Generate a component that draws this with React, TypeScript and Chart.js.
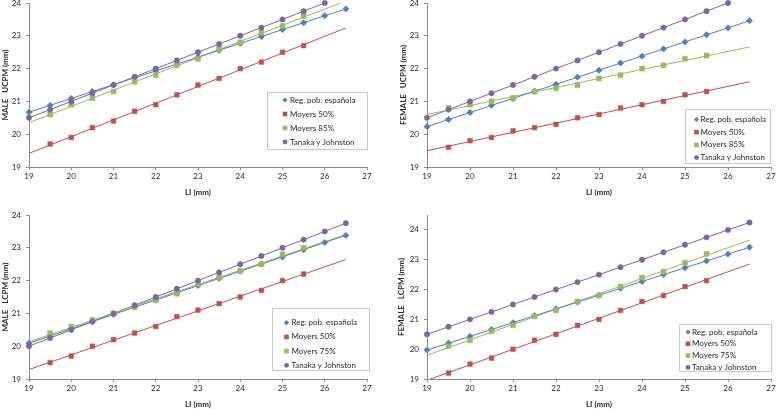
import React, { useEffect, useRef } from 'react';
import { Chart, registerables } from 'chart.js';

Chart.register(...registerables);

// ---------- data ----------
const LI_ALL = [19, 19.5, 20, 20.5, 21, 21.5, 22, 22.5, 23, 23.5, 24, 24.5, 25, 25.5, 26, 26.5];
const LI_MOYERS = [19.5, 20, 20.5, 21, 21.5, 22, 22.5, 23, 23.5, 24, 24.5, 25, 25.5];
const LI_TANAKA_UPPER = [19, 19.5, 20, 20.5, 21, 21.5, 22, 22.5, 23, 23.5, 24, 24.5, 25, 25.5, 26];
const TREND_X = [19, 26.5];
const X_TICKS = [19, 20, 21, 22, 23, 24, 25, 26, 27];

const NAME_REG = 'Reg. pob. española';
const NAME_M50 = 'Moyers 50%';
const NAME_M85 = 'Moyers 85%';
const NAME_M75 = 'Moyers 75%';
const NAME_TANAKA = 'Tanaka y Johnston';

const TITLE_X = 'LI (mm)';
const TITLE_MALE_UPPER = 'MALE   UCPM (mm)';
const TITLE_FEMALE_UPPER = 'FEMALE   UCPM (mm)';
const TITLE_MALE_LOWER = 'MALE   LCPM (mm)';
const TITLE_FEMALE_LOWER = 'FEMALE   LCPM (mm)';

// Male, upper (UCPM)
const MALE_UPPER_REG = [20.67, 20.88, 21.09, 21.30, 21.51, 21.72, 21.93, 22.14, 22.35, 22.56, 22.77, 22.98, 23.19, 23.40, 23.61, 23.82];
const MALE_UPPER_M50 = [19.7, 19.9, 20.2, 20.4, 20.7, 20.9, 21.2, 21.5, 21.7, 22.0, 22.2, 22.5, 22.7];
const MALE_UPPER_M85 = [20.6, 20.9, 21.1, 21.3, 21.6, 21.8, 22.1, 22.3, 22.6, 22.8, 23.1, 23.3, 23.6];
const MALE_UPPER_TANAKA = [20.5, 20.75, 21, 21.25, 21.5, 21.75, 22, 22.25, 22.5, 22.75, 23, 23.25, 23.5, 23.75, 24];

// Female, upper (UCPM)
const FEMALE_UPPER_REG = [20.23, 20.45, 20.66, 20.88, 21.09, 21.31, 21.52, 21.74, 21.95, 22.17, 22.38, 22.60, 22.81, 23.03, 23.24, 23.46];
const FEMALE_UPPER_M50 = [19.6, 19.8, 19.9, 20.1, 20.2, 20.3, 20.5, 20.6, 20.8, 20.9, 21.0, 21.2, 21.3];
const FEMALE_UPPER_M85 = [20.8, 20.9, 21.0, 21.1, 21.3, 21.4, 21.5, 21.7, 21.8, 22.0, 22.1, 22.3, 22.4];
const FEMALE_UPPER_TANAKA = [20.5, 20.75, 21, 21.25, 21.5, 21.75, 22, 22.25, 22.5, 22.75, 23, 23.25, 23.5, 23.75, 24];

// Male, lower (LCPM)
const MALE_LOWER_REG = [20.09, 20.31, 20.53, 20.75, 20.97, 21.19, 21.41, 21.63, 21.85, 22.07, 22.29, 22.51, 22.72, 22.94, 23.16, 23.38];
const MALE_LOWER_M50 = [19.5, 19.7, 20.0, 20.2, 20.4, 20.6, 20.9, 21.1, 21.3, 21.5, 21.7, 22.0, 22.2];
const MALE_LOWER_M75 = [20.4, 20.6, 20.8, 21.0, 21.2, 21.4, 21.6, 21.9, 22.1, 22.3, 22.5, 22.8, 23.0];
const MALE_LOWER_TANAKA = [20, 20.25, 20.5, 20.75, 21, 21.25, 21.5, 21.75, 22, 22.25, 22.5, 22.75, 23, 23.25, 23.5, 23.75];

// Female, lower (LCPM)
const FEMALE_LOWER_REG = [19.97, 20.20, 20.43, 20.66, 20.89, 21.12, 21.35, 21.58, 21.81, 22.04, 22.27, 22.50, 22.73, 22.96, 23.19, 23.42];
const FEMALE_LOWER_M50 = [19.2, 19.5, 19.7, 20.0, 20.3, 20.5, 20.8, 21.0, 21.3, 21.6, 21.8, 22.1, 22.3];
const FEMALE_LOWER_M75 = [20.1, 20.3, 20.6, 20.8, 21.1, 21.3, 21.6, 21.8, 22.1, 22.4, 22.6, 22.9, 23.2];
const FEMALE_LOWER_TANAKA = [20.5, 20.75, 21, 21.25, 21.5, 21.75, 22, 22.25, 22.5, 22.75, 23, 23.25, 23.5, 23.75, 24, 24.25];

// ---------- styles ----------
const FONT = 'Lato, "Liberation Sans", sans-serif';
const C_BLUE = '#4F81BD';
const C_RED = '#C0504D';
const C_GREEN = '#9BBB59';
const C_PURPLE = '#8064A2';
const AXIS_COLOR = '#8C8C8C';
const TEXT_COLOR = '#2B2B2B';

type Area = { yW: number; padTop: number; padRight: number; xH: number; padBottom: number; yTitlePad: number; xTitlePad: number };
type Lg = { x1: number; y1: number; x2: number; y2: number; row0: number; rowGap: number; markerX: number; textX: number };
type Panel = {
  left: number; top: number; w: number; h: number;
  yTitle: string; yMax: number;
  reg: number[]; m50: number[]; mHi: number[]; mHiLabel: string; tanX: number[]; tan: number[];
  area: Area; legend: Lg;
};

const PANELS: Panel[] = [
  {
    left: 0, top: 0, w: 388, h: 205, yTitle: TITLE_MALE_UPPER, yMax: 24,
    reg: MALE_UPPER_REG, m50: MALE_UPPER_M50, mHi: MALE_UPPER_M85, mHiLabel: NAME_M85, tanX: LI_TANAKA_UPPER, tan: MALE_UPPER_TANAKA,
    area: { yW: 29, padTop: 3, padRight: 21, xH: 31, padBottom: 7, yTitlePad: 1, xTitlePad: 1 },
    legend: { x1: 267, y1: 92, x2: 368, y2: 150, row0: 100, rowGap: 14, markerX: 285, textX: 290 },
  },
  {
    left: 388, top: 0, w: 390, h: 205, yTitle: TITLE_FEMALE_UPPER, yMax: 24,
    reg: FEMALE_UPPER_REG, m50: FEMALE_UPPER_M50, mHi: FEMALE_UPPER_M85, mHiLabel: NAME_M85, tanX: LI_TANAKA_UPPER, tan: FEMALE_UPPER_TANAKA,
    area: { yW: 39, padTop: 3, padRight: 7, xH: 31, padBottom: 7, yTitlePad: 10.5, xTitlePad: 1 },
    legend: { x1: 297, y1: 109, x2: 383, y2: 164, row0: 119.5, rowGap: 12.7, markerX: 308.5, textX: 312.5 },
  },
  {
    left: 0, top: 205, w: 388, h: 204, yTitle: TITLE_MALE_LOWER, yMax: 24,
    reg: MALE_LOWER_REG, m50: MALE_LOWER_M50, mHi: MALE_LOWER_M75, mHiLabel: NAME_M75, tanX: LI_ALL, tan: MALE_LOWER_TANAKA,
    area: { yW: 29, padTop: 10, padRight: 21, xH: 30, padBottom: 0, yTitlePad: 1, xTitlePad: 0 },
    legend: { x1: 272, y1: 103, x2: 370, y2: 166, row0: 117.7, rowGap: 14.2, markerX: 286.5, textX: 291.5 },
  },
  {
    left: 388, top: 205, w: 390, h: 204, yTitle: TITLE_FEMALE_LOWER, yMax: 24.5,
    reg: FEMALE_LOWER_REG, m50: FEMALE_LOWER_M50, mHi: FEMALE_LOWER_M75, mHiLabel: NAME_M75, tanX: LI_ALL, tan: FEMALE_LOWER_TANAKA,
    area: { yW: 39, padTop: 10, padRight: 7, xH: 30, padBottom: 0, yTitlePad: 9, xTitlePad: 0 },
    legend: { x1: 291, y1: 119, x2: 384, y2: 167, row0: 127, rowGap: 11.8, markerX: 300, textX: 304 },
  },
];

function linReg(xs: number[], ys: number[]) {
  const n = xs.length;
  const mx = xs.reduce((a, b) => a + b, 0) / n;
  const my = ys.reduce((a, b) => a + b, 0) / n;
  let sxy = 0;
  let sxx = 0;
  for (let i = 0; i < n; i++) {
    sxy += (xs[i] - mx) * (ys[i] - my);
    sxx += (xs[i] - mx) * (xs[i] - mx);
  }
  const b = sxy / sxx;
  const a = my - b * mx;
  return (x: number) => a + b * x;
}

type Series = { label: string; xs: number[]; ys: number[]; color: string; style: string; radius: number };

function drawMarker(ctx: CanvasRenderingContext2D, style: string, x: number, y: number, color: string) {
  ctx.fillStyle = color;
  ctx.beginPath();
  if (style === 'rect') {
    ctx.rect(x - 2.3, y - 2.3, 4.6, 4.6);
  } else if (style === 'rectRot') {
    ctx.moveTo(x, y - 2.6);
    ctx.lineTo(x + 2.6, y);
    ctx.lineTo(x, y + 2.6);
    ctx.lineTo(x - 2.6, y);
    ctx.closePath();
  } else {
    ctx.arc(x, y, 2.4, 0, Math.PI * 2);
  }
  ctx.fill();
}

function ChartPanel({ p }: { p: Panel }) {
  const ref = useRef<HTMLCanvasElement | null>(null);
  useEffect(() => {
    if (!ref.current) return;
    const series: Series[] = [
      { label: NAME_REG, xs: LI_ALL, ys: p.reg, color: C_BLUE, style: 'rectRot', radius: 3.2 },
      { label: NAME_M50, xs: LI_MOYERS, ys: p.m50, color: C_RED, style: 'rect', radius: 3.3 },
      { label: p.mHiLabel, xs: LI_MOYERS, ys: p.mHi, color: C_GREEN, style: 'rect', radius: 3.5 },
      { label: NAME_TANAKA, xs: p.tanX, ys: p.tan, color: C_PURPLE, style: 'circle', radius: 2.7 },
    ];
    const datasets: any[] = [];
    series.forEach((s, i) => {
      const f = linReg(s.xs, s.ys);
      datasets.push({
        label: s.label + ' trend',
        data: TREND_X.map((x) => ({ x, y: f(x) })),
        showLine: true,
        borderColor: s.color,
        borderWidth: 1,
        pointRadius: 0,
        order: 20 + i,
      });
    });
    series.forEach((s, i) => {
      datasets.push({
        label: s.label,
        data: s.xs.map((x, k) => ({ x, y: s.ys[k] })),
        showLine: false,
        pointStyle: s.style,
        pointRadius: s.radius,
        backgroundColor: s.color,
        borderColor: s.color,
        borderWidth: 0.5,
        clip: false,
        order: 10 - i,
      });
    });

    const a = p.area;
    const lg = p.legend;
    const legendPlugin = {
      id: 'boxLegend',
      afterDraw(chart: any) {
        const ctx: CanvasRenderingContext2D = chart.ctx;
        ctx.save();
        ctx.fillStyle = '#ffffff';
        ctx.fillRect(lg.x1, lg.y1, lg.x2 - lg.x1, lg.y2 - lg.y1);
        ctx.strokeStyle = '#C9C9C9';
        ctx.lineWidth = 1;
        ctx.strokeRect(lg.x1 + 0.5, lg.y1 + 0.5, lg.x2 - lg.x1 - 1, lg.y2 - lg.y1 - 1);
        series.forEach((s, i) => {
          const cy = lg.row0 + i * lg.rowGap;
          drawMarker(ctx, s.style, lg.markerX, cy, s.color);
          ctx.fillStyle = TEXT_COLOR;
          ctx.font = `8px ${FONT}`;
          ctx.textBaseline = 'middle';
          ctx.textAlign = 'left';
          ctx.fillText(s.label, lg.textX, cy);
        });
        ctx.restore();
      },
    };

    const chart = new Chart(ref.current, {
      type: 'scatter',
      data: { datasets },
      plugins: [legendPlugin],
      options: {
        animation: false,
        responsive: false,
        maintainAspectRatio: false,
        devicePixelRatio: 1,
        layout: { autoPadding: false, padding: { top: a.padTop, right: a.padRight, bottom: a.padBottom, left: 0 } },
        plugins: { legend: { display: false }, tooltip: { enabled: false } },
        scales: {
          x: {
            type: 'linear',
            min: 19,
            max: 27,
            afterBuildTicks: (scale: any) => {
              scale.ticks = X_TICKS.map((v) => ({ value: v }));
            },
            afterFit: (scale: any) => {
              scale.height = a.xH;
              scale.paddingLeft = 0;
              scale.paddingRight = 0;
            },
            grid: { display: true, drawOnChartArea: false, drawTicks: true, tickLength: 3, color: AXIS_COLOR },
            border: { display: true, color: AXIS_COLOR, width: 1 },
            ticks: { font: { family: FONT, size: 8 }, color: TEXT_COLOR, padding: 2, maxRotation: 0, autoSkip: false },
            title: { display: true, text: TITLE_X, font: { family: FONT, size: 8, weight: 'bold' }, color: TEXT_COLOR, padding: { top: 0, bottom: a.xTitlePad } },
          },
          y: {
            type: 'linear',
            min: 19,
            max: p.yMax,
            afterBuildTicks: (scale: any) => {
              scale.ticks = scale.ticks.filter((t: any) => Number.isInteger(t.value));
            },
            afterFit: (scale: any) => {
              scale.width = a.yW;
              scale.paddingTop = 0;
              scale.paddingBottom = 0;
            },
            grid: { display: true, drawOnChartArea: false, drawTicks: true, tickLength: 3, color: AXIS_COLOR },
            border: { display: true, color: AXIS_COLOR, width: 1 },
            ticks: { stepSize: 1, font: { family: FONT, size: 8 }, color: TEXT_COLOR, padding: 5 },
            title: { display: true, text: p.yTitle, font: { family: FONT, size: 8, weight: 'bold' }, color: TEXT_COLOR, padding: { top: a.yTitlePad, bottom: 0 } },
          },
        },
      } as any,
    });
    return () => chart.destroy();
  }, [p]);

  return (
    <canvas
      ref={ref}
      width={p.w}
      height={p.h}
      style={{ position: 'absolute', left: p.left, top: p.top, width: p.w, height: p.h }}
    />
  );
}

export default function App() {
  useEffect(() => {
    document.body.style.margin = '0';
  }, []);
  return (
    <div style={{ position: 'absolute', left: 0, top: 0, width: 778, height: 409, background: '#ffffff', overflow: 'hidden' }}>
      {PANELS.map((p, i) => (
        <ChartPanel key={i} p={p} />
      ))}
    </div>
  );
}
